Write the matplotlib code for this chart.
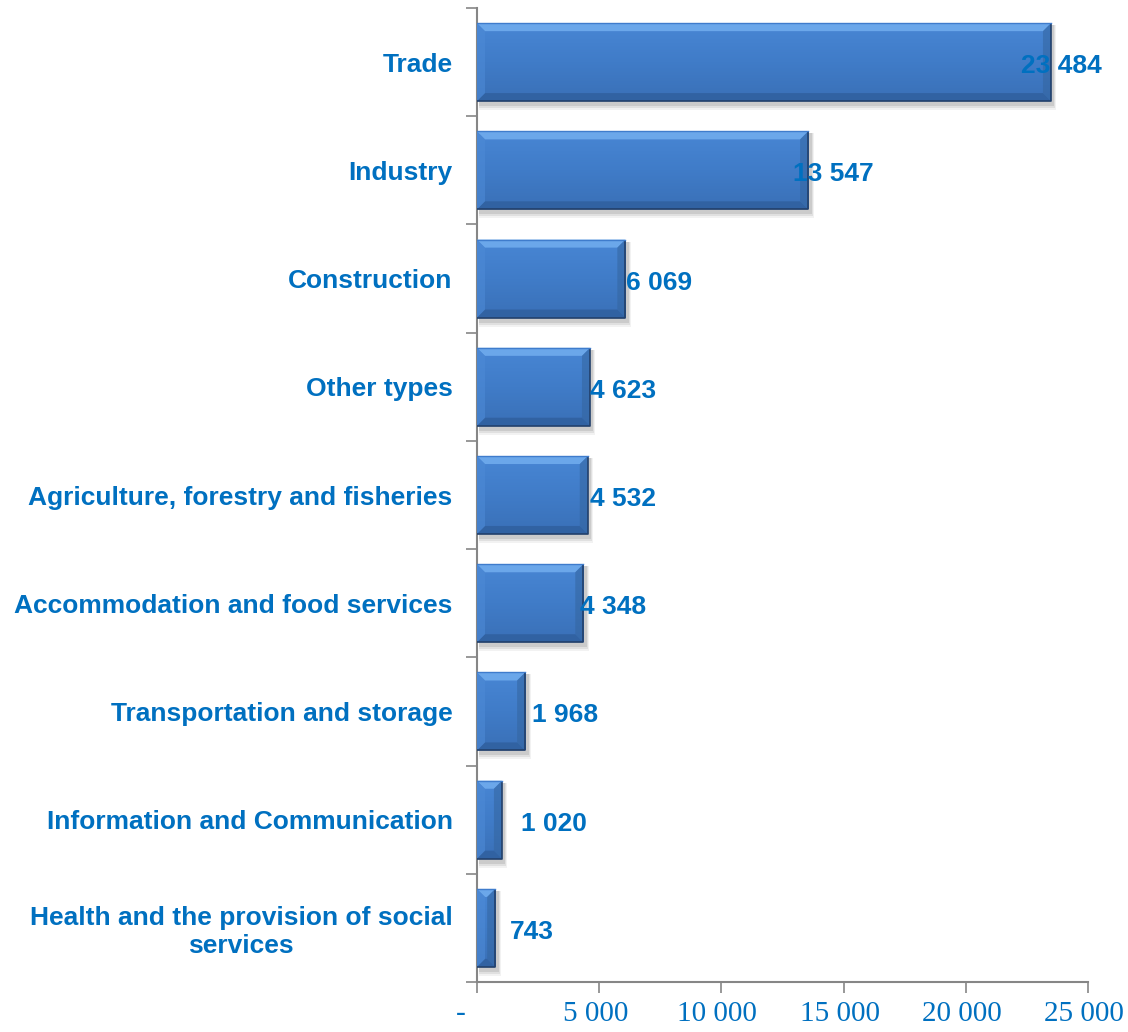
import numpy as np
import matplotlib
matplotlib.use("Agg")
import matplotlib.pyplot as plt
import matplotlib.ticker as ticker
import matplotlib.transforms as mtransforms
from matplotlib.patches import Polygon, Rectangle

categories = ["Trade", "Industry", "Construction", "Other types",
              "Agriculture, forestry and fisheries",
              "Accommodation and food services",
              "Transportation and storage",
              "Information and Communication",
              "Health and the provision of social\nservices"]
values = [23484, 13547, 6069, 4623, 4532, 4348, 1968, 1020, 743]
value_labels = ["23 484", "13 547", "6 069", "4 623", "4 532", "4 348",
                "1 968", "1 020", "743"]
xticks = [0, 5000, 10000, 15000, 20000, 25000]

# label centre shift from bar end, in pixels (Excel put them a bit unevenly)
label_shift = [10, 25, 34, 33, 35, 30, 40, 52, 37]

BLUE_TXT = "#0070C0"
AXIS_GRAY = "#868686"

fig = plt.figure(figsize=(11.28, 10.32), dpi=100)
ax = fig.add_axes([477 / 1128, 50 / 1032, 611 / 1128, 974 / 1032])

y = np.arange(len(categories))
bar_h = 0.72
bars = ax.barh(y, values, height=bar_h, color="#4179c4", linewidth=0, zorder=3)

ax.set_xlim(0, 25000)
ax.set_ylim(len(categories) - 0.5, -0.5)

# pixel -> data sizes
px_x = 25000 / 611
px_y = 1 / 108.2

grad = np.linspace(0, 1, 256).reshape(-1, 1)
face_cmap = matplotlib.colors.LinearSegmentedColormap.from_list(
    "face", ["#4886d4", "#407cc8", "#3a70b7"])

for b in bars:
    x0, y0 = b.get_x(), b.get_y()
    w, h = b.get_width(), b.get_height()
    yt, yb = y0, y0 + h

    # soft drop shadow
    for k, a in [(7, 0.05), (5, 0.07), (3, 0.09)]:
        ax.add_patch(Rectangle((x0 + 2 * px_x, y0 + 2 * px_y), w + k * px_x * 0.5,
                               h + k * px_y, facecolor="#000000", alpha=a,
                               linewidth=0, zorder=2))

    # vertical gradient clipped to the bar
    im = ax.imshow(grad, cmap=face_cmap, aspect="auto",
                   extent=[x0, x0 + w, yb, yt], zorder=3.5)
    im.set_clip_path(b)

    bx = min(8 * px_x, w / 2)
    by = 8 * px_y
    bevels = [
        ([(x0, yt), (x0 + w, yt), (x0 + w - bx, yt + by), (x0 + bx, yt + by)], "#6eaaec", 0.95),
        ([(x0, yb), (x0 + w, yb), (x0 + w - bx, yb - by), (x0 + bx, yb - by)], "#30609f", 0.85),
        ([(x0, yt), (x0 + bx, yt + by), (x0 + bx, yb - by), (x0, yb)], "#4d8ad6", 0.6),
        ([(x0 + w, yt), (x0 + w - bx, yt + by), (x0 + w - bx, yb - by), (x0 + w, yb)], "#34659f", 0.55),
    ]
    for pts, col, a in bevels:
        ax.add_patch(Polygon(pts, closed=True, facecolor=col, alpha=a,
                             linewidth=0, zorder=3.6))
    # darker rim on the right and bottom
    ax.plot([x0, x0 + w, x0 + w], [yb, yb, yt], color="#22406b", lw=1.2,
            zorder=3.7, solid_capstyle="butt")
    ax.plot([x0, x0 + w], [yt, yt], color="#3f7ccc", lw=1.0, zorder=3.7)

for yi, v, lab, dx in zip(y, values, value_labels, label_shift):
    ax.annotate(lab, xy=(v, yi), xytext=(dx, -4), textcoords="offset pixels",
                ha="center", va="center", fontsize=19, fontweight="bold",
                family="Liberation Sans", color=BLUE_TXT, zorder=5)

# category axis: ticks between categories
ax.set_yticks(np.arange(len(categories) + 1) - 0.5)
ax.set_yticklabels([])
ax.yaxis.set_minor_locator(ticker.FixedLocator(y))
ax.set_yticklabels(categories, minor=True, fontsize=19, fontweight="bold",
                   family="Liberation Sans", color=BLUE_TXT,
                   multialignment="center")
ax.tick_params(axis="y", which="major", direction="out", length=8, width=1.2,
               color=AXIS_GRAY)
ax.tick_params(axis="y", which="minor", length=0, pad=24)
for t in ax.get_yticklabels(minor=True):
    t.set_transform(t.get_transform() + mtransforms.ScaledTranslation(
        9 / 100, 0, fig.dpi_scale_trans))

ax.set_xticks(xticks)
ax.xaxis.set_major_formatter(ticker.FuncFormatter(
    lambda v, pos: "-" if v == 0 else f"{v:,.0f}".replace(",", " ")))
ax.tick_params(axis="x", direction="out", length=8, width=1.2, color=AXIS_GRAY,
               pad=6, labelsize=21, labelcolor=BLUE_TXT)
for i, t in enumerate(ax.get_xticklabels()):
    t.set_family("Liberation Serif")
    shift = -16 if i == 0 else -4
    t.set_transform(t.get_transform() + mtransforms.ScaledTranslation(
        shift / 100, 0, fig.dpi_scale_trans))

for s in ["top", "right"]:
    ax.spines[s].set_visible(False)
for s in ["left", "bottom"]:
    ax.spines[s].set_color(AXIS_GRAY)
    ax.spines[s].set_linewidth(1.5)

fig.savefig("out.png", dpi=100)
